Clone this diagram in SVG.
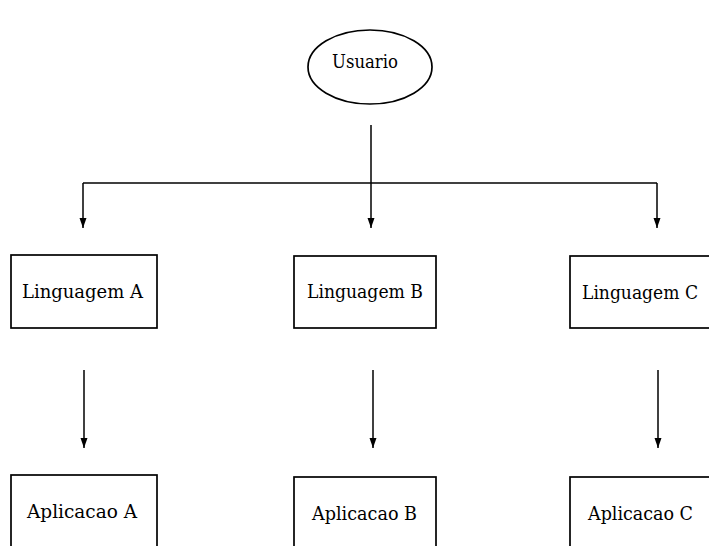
<svg xmlns="http://www.w3.org/2000/svg" width="709" height="546" viewBox="0 0 709 546">
<defs>
<marker id="ah" viewBox="0 0 10 8" refX="10" refY="4" markerWidth="10" markerHeight="8" markerUnits="userSpaceOnUse" orient="auto">
<path d="M0,0.5 L10,4 L0,7.5 Z" fill="#000"/>
</marker>
<style>
.box{fill:#fff;stroke:#000;stroke-width:1.7}
.lbl{font-family:"DejaVu Serif","Liberation Serif",serif;font-size:18px;fill:#000}
.con{fill:none;stroke:#000;stroke-width:1.5}
</style>
</defs>
<rect width="709" height="546" fill="#fff"/>
<g id="usuario">
<ellipse class="box" cx="370" cy="67" rx="62" ry="37"/>
<text class="lbl" x="332" y="68" textLength="66" lengthAdjust="spacingAndGlyphs">Usuario</text>
</g>
<g id="linguagemA">
<rect class="box" x="11" y="255" width="146" height="73"/>
<text class="lbl" x="22" y="298" textLength="121" lengthAdjust="spacingAndGlyphs">Linguagem A</text>
</g>
<g id="linguagemB">
<rect class="box" x="294" y="256" width="142" height="72"/>
<text class="lbl" x="307" y="298" textLength="116" lengthAdjust="spacingAndGlyphs">Linguagem B</text>
</g>
<g id="linguagemC">
<rect class="box" x="570" y="256" width="160" height="72"/>
<text class="lbl" x="582" y="299" textLength="116" lengthAdjust="spacingAndGlyphs">Linguagem C</text>
</g>
<g id="aplicacaoA">
<rect class="box" x="11" y="475" width="146" height="90"/>
<text class="lbl" x="27" y="518" textLength="110" lengthAdjust="spacingAndGlyphs">Aplicacao A</text>
</g>
<g id="aplicacaoB">
<rect class="box" x="294" y="477" width="142" height="90"/>
<text class="lbl" x="312" y="520" textLength="105" lengthAdjust="spacingAndGlyphs">Aplicacao B</text>
</g>
<g id="aplicacaoC">
<rect class="box" x="570" y="477" width="160" height="90"/>
<text class="lbl" x="588" y="520" textLength="105" lengthAdjust="spacingAndGlyphs">Aplicacao C</text>
</g>
<g id="connectors">
<path class="con" d="M371,125 V228" marker-end="url(#ah)"/>
<path class="con" d="M83,183 H657"/>
<path class="con" d="M83,183 V228" marker-end="url(#ah)"/>
<path class="con" d="M657,183 V228" marker-end="url(#ah)"/>
<path class="con" d="M84,370 V448" marker-end="url(#ah)"/>
<path class="con" d="M373,370 V448" marker-end="url(#ah)"/>
<path class="con" d="M658,370 V448" marker-end="url(#ah)"/>
</g>
</svg>
